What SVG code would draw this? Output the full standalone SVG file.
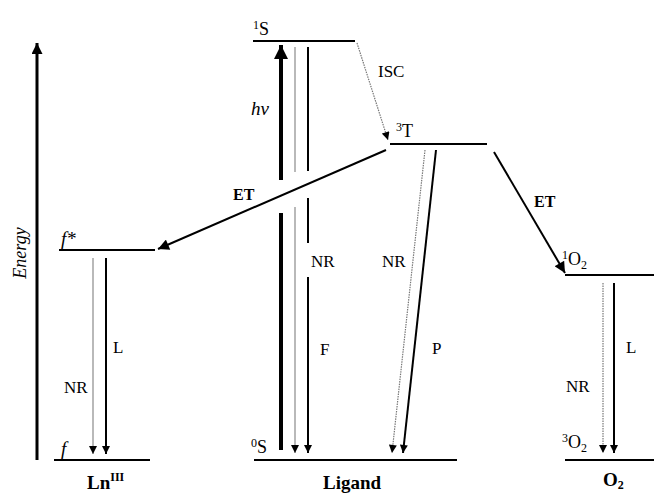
<svg xmlns="http://www.w3.org/2000/svg" width="654" height="494" viewBox="0 0 654 494">
<style>
text{font-family:"Liberation Serif","DejaVu Serif","Times New Roman",serif;fill:#000}
.sm{font-size:17px}
.lv{font-size:18px}
.it{font-style:italic}
.bd{font-weight:bold}
.level{stroke:#000;stroke-width:2.2;fill:none}
.blk{stroke:#000;stroke-width:2;fill:none}
.gry{stroke:#8a8a8a;stroke-width:1.2;fill:none}
.dot{stroke:#777;stroke-width:1.2;fill:none;stroke-dasharray:1.5 1}
</style>
<defs>
<marker id="ah" viewBox="0 0 10 10" refX="10" refY="5" markerWidth="9" markerHeight="8" orient="auto" markerUnits="userSpaceOnUse"><path d="M0,0 L10,5 L0,10 z" fill="#000"/></marker>
<marker id="ahL" viewBox="0 0 10 10" refX="10" refY="5" markerWidth="12" markerHeight="11" orient="auto" markerUnits="userSpaceOnUse"><path d="M0,0 L10,5 L0,10 z" fill="#000"/></marker>
<marker id="ahH" viewBox="0 0 10 10" refX="10" refY="5" markerWidth="15" markerHeight="14" orient="auto" markerUnits="userSpaceOnUse"><path d="M0,0 L10,5 L0,10 z" fill="#000"/></marker>
</defs>
<g font-family="'Liberation Serif', 'DejaVu Serif', serif">
<g id="energy-axis">
<line x1="37" y1="460" x2="37" y2="43" stroke="#000" stroke-width="3" marker-end="url(#ahL)"/>
<text class="it" font-size="18" transform="translate(26,253) rotate(-90)" text-anchor="middle">Energy</text>
</g>

<g id="ln-f-star">
<line class="level" x1="59" y1="250" x2="155" y2="250"/>
<text class="it" font-size="19" x="61" y="245">f*</text>
</g>
<g id="ln-f">
<line class="level" x1="54" y1="460" x2="150" y2="460"/>
<text class="it" font-size="19" x="61" y="455">f</text>
<text class="bd" font-size="19" x="87" y="489">Ln<tspan font-size="12" dy="-8">III</tspan></text>
</g>

<g id="ligand-1S">
<line class="level" x1="253" y1="41" x2="355" y2="41"/>
<text class="lv" x="253" y="35"><tspan font-size="12" dy="-6">1</tspan><tspan dy="6">S</tspan></text>
</g>
<g id="ligand-3T">
<line class="level" x1="390" y1="144" x2="487" y2="144"/>
<text class="lv" x="396" y="137"><tspan font-size="12" dy="-6">3</tspan><tspan dy="6">T</tspan></text>
</g>
<g id="ligand-0S">
<line class="level" x1="254" y1="460" x2="457" y2="460"/>
<text class="lv" x="251" y="453"><tspan font-size="12" dy="-6">0</tspan><tspan dy="6">S</tspan></text>
<text class="bd" font-size="19" x="352" y="489" text-anchor="middle">Ligand</text>
</g>

<g id="o2-1O2">
<line class="level" x1="565" y1="275" x2="654" y2="275"/>
<text class="lv" x="562" y="265"><tspan font-size="12" dy="-6">1</tspan><tspan dy="6">O</tspan><tspan font-size="12" dy="4">2</tspan></text>
</g>
<g id="o2-3O2">
<line class="level" x1="565" y1="460" x2="654" y2="460"/>
<text class="lv" x="562" y="448"><tspan font-size="12" dy="-6">3</tspan><tspan dy="6">O</tspan><tspan font-size="12" dy="4">2</tspan></text>
<text class="bd" font-size="19" x="603" y="486">O<tspan font-size="12" dy="3">2</tspan></text>
</g>

<g id="connectors">
<line x1="281" y1="450" x2="281" y2="213" stroke="#000" stroke-width="4"/>
<line x1="281" y1="180" x2="281" y2="45" stroke="#000" stroke-width="4" marker-end="url(#ahH)"/>
<text class="it" font-size="19" x="251" y="115">hv</text>
<line class="gry" x1="295" y1="47" x2="295" y2="172"/>
<line class="gry" x1="295" y1="207" x2="295" y2="453" marker-end="url(#ah)"/>
<text class="sm" x="311" y="267">NR</text>
<line class="blk" x1="308" y1="47" x2="308" y2="171"/>
<line class="blk" x1="308" y1="198" x2="308" y2="243"/>
<line class="blk" x1="308" y1="277" x2="308" y2="453" marker-end="url(#ah)"/>
<text class="sm" x="320" y="355">F</text>
<line class="dot" x1="357" y1="43" x2="388" y2="140" stroke="#444" marker-end="url(#ah)"/>
<text class="sm" x="378" y="77">ISC</text>
<line class="blk" x1="386" y1="150" x2="158" y2="249" marker-end="url(#ahL)"/>
<text class="bd" font-size="16" x="233" y="200">ET</text>
<line class="dot" x1="425" y1="150" x2="392" y2="453" marker-end="url(#ah)"/>
<text class="sm" x="382" y="267">NR</text>
<line class="blk" x1="436" y1="150" x2="403" y2="453" marker-end="url(#ah)"/>
<text class="sm" x="432" y="354">P</text>
<line class="blk" x1="494" y1="152" x2="565" y2="273" marker-end="url(#ahL)"/>
<text class="bd" font-size="16" x="534" y="207">ET</text>
<line class="gry" x1="93" y1="258" x2="93" y2="454" marker-end="url(#ah)"/>
<text class="sm" x="64" y="393">NR</text>
<line class="blk" x1="106" y1="258" x2="106" y2="454" marker-end="url(#ah)"/>
<text class="sm" x="113" y="353">L</text>
<line class="dot" x1="603" y1="283" x2="603" y2="453" marker-end="url(#ah)"/>
<text class="sm" x="566" y="392">NR</text>
<line class="blk" x1="614" y1="283" x2="614" y2="453" marker-end="url(#ah)"/>
<text class="sm" x="626" y="353">L</text>
</g>
</g>
</svg>
